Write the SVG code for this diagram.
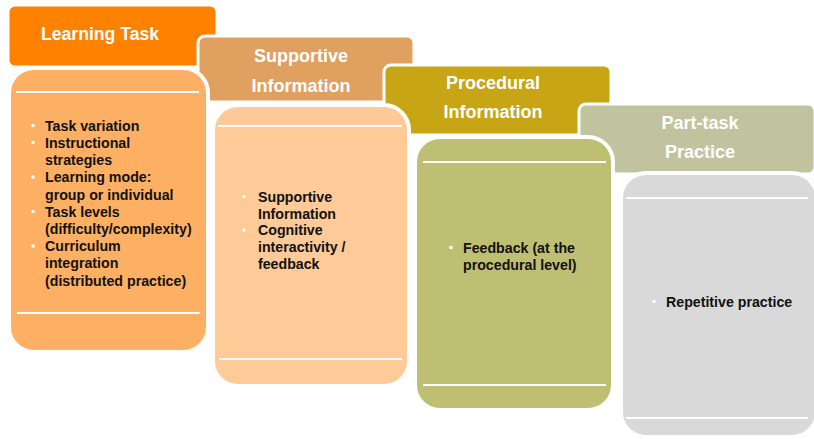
<svg xmlns="http://www.w3.org/2000/svg" width="814" height="439" viewBox="0 0 814 439">
  <style>
    .tab { stroke: #ffffff; stroke-width: 3; }
    .card { stroke: #ffffff; stroke-width: 4; }
    .rule { stroke: #ffffff; stroke-width: 2; }
    .head { font-family: "Liberation Sans", Arial, sans-serif; font-weight: bold; font-size: 18px; fill: #ffffff; text-anchor: middle; }
    .body { font-family: "Liberation Sans", Arial, sans-serif; font-weight: bold; font-size: 14.2px; fill: #111111; }
    .dot { fill: #ffffff; }
  </style>
  <rect width="814" height="439" fill="#ffffff"/>

  <!-- header tabs, each later tab laid over the previous one -->
  <g id="tab-learning-task">
    <rect class="tab" x="8" y="5" width="209" height="62" rx="7" fill="#fe8100"/>
    <text class="head" x="100" y="40" textLength="118" lengthAdjust="spacingAndGlyphs">Learning Task</text>
  </g>
  <g id="tab-supportive-information">
    <rect class="tab" x="198" y="36" width="216" height="66" rx="7" fill="#e0a05f"/>
    <text class="head" x="301" y="62">Supportive</text>
    <text class="head" x="301" y="92">Information</text>
  </g>
  <g id="tab-procedural-information">
    <rect class="tab" x="384" y="65" width="227" height="70" rx="7" fill="#c8a514"/>
    <text class="head" x="493" y="89">Procedural</text>
    <text class="head" x="493" y="118">Information</text>
  </g>
  <g id="tab-part-task-practice">
    <rect class="tab" x="579" y="104" width="236" height="70" rx="7" fill="#c1c39f"/>
    <text class="head" x="700" y="129">Part-task</text>
    <text class="head" x="700" y="158">Practice</text>
  </g>

  <!-- content cards -->
  <g id="card-learning-task">
    <rect class="card" x="9" y="68" width="199" height="284" rx="25" fill="#fdb063"/>
    <line class="rule" x1="16" y1="92" x2="199" y2="92"/>
    <line class="rule" x1="17" y1="313" x2="200" y2="313"/>
    <circle class="dot" cx="33" cy="125.5" r="1.8"/>
    <circle class="dot" cx="33" cy="142.5" r="1.8"/>
    <circle class="dot" cx="33" cy="177" r="1.8"/>
    <circle class="dot" cx="33" cy="211.5" r="1.8"/>
    <circle class="dot" cx="33" cy="246" r="1.8"/>
    <text class="body" x="45" y="130.7">Task variation</text>
    <text class="body" x="45" y="147.9">Instructional</text>
    <text class="body" x="45" y="165.1">strategies</text>
    <text class="body" x="45" y="182.3">Learning mode:</text>
    <text class="body" x="45" y="199.5">group or individual</text>
    <text class="body" x="45" y="216.7">Task levels</text>
    <text class="body" x="45" y="233.9">(difficulty/complexity)</text>
    <text class="body" x="45" y="251.1">Curriculum</text>
    <text class="body" x="45" y="268.3">integration</text>
    <text class="body" x="45" y="285.5">(distributed practice)</text>
  </g>
  <g id="card-supportive-information">
    <rect class="card" x="213" y="105" width="196" height="281" rx="25" fill="#fdca98"/>
    <line class="rule" x1="218" y1="126" x2="402" y2="126"/>
    <line class="rule" x1="219" y1="359" x2="402" y2="359"/>
    <circle class="dot" cx="244" cy="196.5" r="1.8"/>
    <circle class="dot" cx="244" cy="230" r="1.8"/>
    <text class="body" x="258" y="201.7">Supportive</text>
    <text class="body" x="258" y="218.5">Information</text>
    <text class="body" x="258" y="235.3">Cognitive</text>
    <text class="body" x="258" y="252">interactivity /</text>
    <text class="body" x="258" y="268.8">feedback</text>
  </g>
  <g id="card-procedural-information">
    <rect class="card" x="415" y="137" width="198" height="273" rx="25" fill="#bfbf73"/>
    <line class="rule" x1="423" y1="162" x2="606" y2="162"/>
    <line class="rule" x1="423" y1="385" x2="606" y2="385"/>
    <circle class="dot" cx="451" cy="247.5" r="1.8"/>
    <text class="body" x="463" y="252.7">Feedback (at the</text>
    <text class="body" x="463" y="269.5">procedural level)</text>
  </g>
  <g id="card-part-task-practice">
    <rect class="card" x="621" y="173" width="196" height="264" rx="25" fill="#d9d9d9"/>
    <line class="rule" x1="626" y1="198" x2="808" y2="198"/>
    <line class="rule" x1="626" y1="418" x2="808" y2="418"/>
    <circle class="dot" cx="654" cy="301.5" r="1.8"/>
    <text class="body" x="666" y="306.7">Repetitive practice</text>
  </g>

  <!-- no connectors in this layout -->
  <g id="connectors"/>
</svg>
